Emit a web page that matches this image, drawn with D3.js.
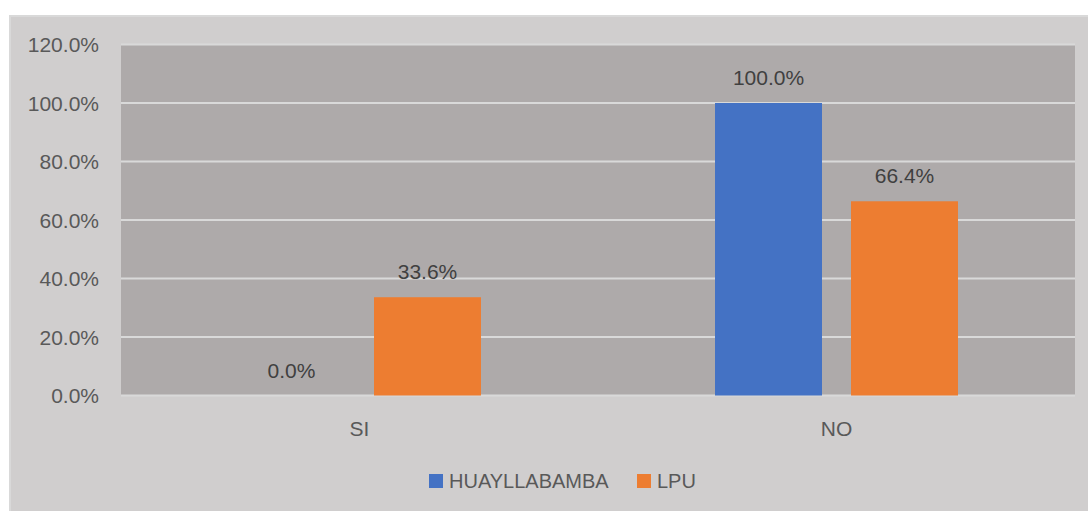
<!DOCTYPE html>
<html>
<head>
<meta charset="utf-8">
<script src="https://cdn.jsdelivr.net/npm/d3@7"></script>
<style>
  body { margin: 0; background: #ffffff; }
  svg { display: block; font-family: "Liberation Sans", Arial, sans-serif; }
</style>
</head>
<body>
<div id="chart"></div>
<script>
// chart data
const categories = ["SI", "NO"];
const seriesNames = ["HUAYLLABAMBA", "LPU"];
const huayllabamba = [0.0, 100.0];
const lpu = [33.6, 66.4];
const yTicks = [0, 20, 40, 60, 80, 100, 120];

const seriesColors = ["#4472c4", "#ed7d31"];
const WIDTH = 1088;
const HEIGHT = 511;
const margin = { left: 121, right: 13, top: 44.5, bottom: 115.5 };

const svg = d3.select("#chart")
    .append("svg")
    .attr("width", WIDTH)
    .attr("height", HEIGHT);

// outer chart background (runs off the right and bottom edges)
svg.append("rect")
    .attr("x", 10)
    .attr("y", 16)
    .attr("width", WIDTH)
    .attr("height", HEIGHT)
    .attr("fill", "#d0cece")
    .attr("stroke", "#d9d9d9")
    .attr("stroke-width", 2);

const x0 = d3.scaleBand()
    .domain(categories)
    .range([margin.left, WIDTH - margin.right]);

// group of two bars inside each category
const groupWidth = 243;
const x1 = d3.scaleBand()
    .domain(seriesNames)
    .range([0, groupWidth])
    .paddingInner(29 / 136);

const y = d3.scaleLinear()
    .domain([0, 120])
    .range([HEIGHT - margin.bottom, margin.top]);

// plot area
svg.append("rect")
    .attr("x", margin.left)
    .attr("y", margin.top)
    .attr("width", WIDTH - margin.left - margin.right)
    .attr("height", y(0) - margin.top)
    .attr("fill", "#aeaaaa");

// gridlines
svg.append("g")
    .selectAll("line")
    .data(yTicks)
    .enter()
    .append("line")
    .attr("x1", margin.left)
    .attr("x2", WIDTH - margin.right)
    .attr("y1", d => y(d))
    .attr("y2", d => y(d))
    .attr("stroke", "#d9d9d9")
    .attr("stroke-width", 2);

// y tick labels
svg.append("g")
    .selectAll("text")
    .data(yTicks)
    .enter()
    .append("text")
    .attr("x", margin.left - 22)
    .attr("y", d => y(d) + 7.5)
    .attr("text-anchor", "end")
    .attr("font-size", 21)
    .attr("fill", "#595959")
    .text(d => d3.format(".1f")(d) + "%");

const rows = [];
categories.forEach((c, i) => {
    rows.push({ cat: c, series: seriesNames[0], value: huayllabamba[i], color: seriesColors[0] });
    rows.push({ cat: c, series: seriesNames[1], value: lpu[i], color: seriesColors[1] });
});

const offset = (x0.bandwidth() - groupWidth) / 2;
const barX = d => x0(d.cat) + offset + x1(d.series);

svg.append("g")
    .selectAll("rect")
    .data(rows)
    .enter()
    .append("rect")
    .attr("x", barX)
    .attr("y", d => y(d.value))
    .attr("width", x1.bandwidth())
    .attr("height", d => y(0) - y(d.value))
    .attr("fill", d => d.color);

// data labels
svg.append("g")
    .selectAll("text")
    .data(rows)
    .enter()
    .append("text")
    .attr("x", d => barX(d) + x1.bandwidth() / 2)
    .attr("y", d => y(d.value) - 18)
    .attr("text-anchor", "middle")
    .attr("font-size", 21)
    .attr("fill", "#404040")
    .text(d => d3.format(".1f")(d.value) + "%");

// category labels
svg.append("g")
    .selectAll("text")
    .data(categories)
    .enter()
    .append("text")
    .attr("x", d => x0(d) + x0.bandwidth() / 2)
    .attr("y", 436)
    .attr("text-anchor", "middle")
    .attr("font-size", 21)
    .attr("fill", "#595959")
    .text(d => d);

// legend
const legendX = [429, 637];
const legend = svg.append("g");
seriesNames.forEach((name, i) => {
    legend.append("rect")
        .attr("x", legendX[i])
        .attr("y", 474)
        .attr("width", 14)
        .attr("height", 14)
        .attr("fill", seriesColors[i]);
    legend.append("text")
        .attr("x", legendX[i] + 20)
        .attr("y", 488)
        .attr("font-size", 20)
        .attr("fill", "#595959")
        .text(name);
});
</script>
</body>
</html>
